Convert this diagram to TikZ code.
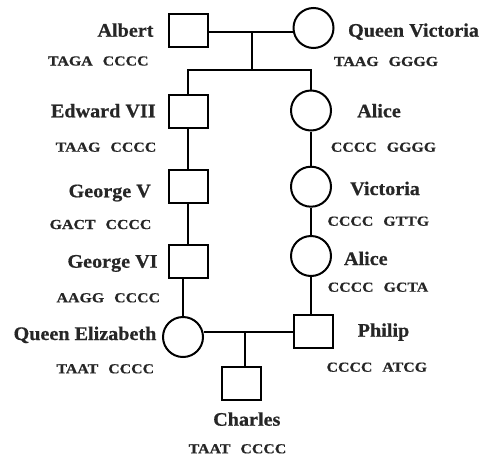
\documentclass[tikz,border=0pt]{standalone}
\usepackage{fontspec}
\setmainfont{Liberation Serif}
\newfontfamily\namefont[FakeStretch=1.05,FakeBold=0.6]{Liberation Serif}
\newfontfamily\seqfont[FakeStretch=1.15,FakeBold=0.6]{Liberation Serif}
\newcommand{\gseq}[2]{#1\hspace{10pt}#2}
\tikzset{
  male/.style={draw, line width=2pt, minimum width=39pt, minimum height=33pt, inner sep=0pt},
  female/.style={draw, circle, line width=2pt, minimum size=40pt, inner sep=0pt},
  nm/.style={anchor=base, inner sep=0pt, text=black!85, font=\namefont\bfseries\fontsize{19.2}{21}\selectfont},
  sq/.style={anchor=base, inner sep=0pt, text=black!85, font=\seqfont\bfseries\fontsize{13.8}{15}\selectfont},
  link/.style={line width=2pt}
}
\begin{document}
\begin{tikzpicture}[x=1pt, y=-1pt]
\useasboundingbox (0,0) rectangle (481,458);
% individuals
\node[male]   (albert)   at (188,30) {};
\node[female] (qv)       at (313.5,28) {};
\node[male]   (edward)   at (188,111.5) {};
\node[female] (alice)    at (311,110.5) {};
\node[male]   (georgev)  at (188,186.5) {};
\node[female] (victoria) at (311,186.7) {};
\node[male]   (georgevi) at (188,261.5) {};
\node[female] (alice2)   at (311,256) {};
\node[female] (qe)       at (183,337) {};
\node[male]   (philip)   at (313.5,331.5) {};
\node[male]   (charles)  at (241.5,383.5) {};
% names
\node[nm] (nAlbert)   at (125.5,36.7) {Albert};
\node[nm] (nQV)       at (413.5,36.7) {Queen Victoria};
\node[nm] (nEdward)   at (103.3,117.3) {Edward VII};
\node[nm] (nAlice)    at (379,117.3) {Alice};
\node[nm] (nGeorgeV)  at (109.7,197.3) {George V};
\node[nm] (nVictoria) at (385,195) {Victoria};
\node[nm] (nGeorgeVI) at (112.5,267.7) {George VI};
\node[nm] (nAlice2)   at (365.8,265) {Alice};
\node[nm] (nQE)       at (85,340) {Queen Elizabeth};
\node[nm] (nPhilip)   at (383.5,336.7) {Philip};
\node[nm] (nCharles)  at (246.8,425.7) {Charles};
% sequences
\node[sq] (sAlbert)   at (98.3,65.5) {\gseq{TAGA}{CCCC}};
\node[sq] (sQV)       at (386,66) {\gseq{TAAG}{GGGG}};
\node[sq] (sEdward)   at (106,151.7) {\gseq{TAAG}{CCCC}};
\node[sq] (sAlice)    at (383.5,151.7) {\gseq{CCCC}{GGGG}};
\node[sq] (sGeorgeV)  at (100.5,229) {\gseq{GACT}{CCCC}};
\node[sq] (sVictoria) at (378.3,225.7) {\gseq{CCCC}{GTTG}};
\node[sq] (sGeorgeVI) at (108.3,302.3) {\gseq{AAGG}{CCCC}};
\node[sq] (sAlice2)   at (378,291.7) {\gseq{CCCC}{GCTA}};
\node[sq] (sQE)       at (105.3,373.3) {\gseq{TAAT}{CCCC}};
\node[sq] (sPhilip)   at (376.8,371.7) {\gseq{CCCC}{ATCG}};
\node[sq] (sCharles)  at (237.5,453.3) {\gseq{TAAT}{CCCC}};
% connectors
\coordinate (m1) at (252,31.5);
\coordinate (s1) at (252,70);
\draw[link] (albert.east |- m1) -- (qv.west |- m1);
\draw[link] (m1) -- (s1);
\draw[link] (edward.north) -- (edward.north |- s1) -- (alice.north |- s1) -- (alice.north);
\draw[link] (edward) -- (georgev);
\draw[link] (georgev) -- (georgevi);
\draw[link] (alice) -- (victoria);
\draw[link] (victoria) -- (alice2);
\draw[link] (georgevi.south -| qe.north) -- (qe.north);
\draw[link] (alice2.south) -- (alice2.south |- philip.north);
\coordinate (m2) at (245,331.7);
\draw[link] (qe.east |- m2) -- (philip.west |- m2);
\draw[link] (m2) -- (m2 |- charles.north);
\end{tikzpicture}
\end{document}
